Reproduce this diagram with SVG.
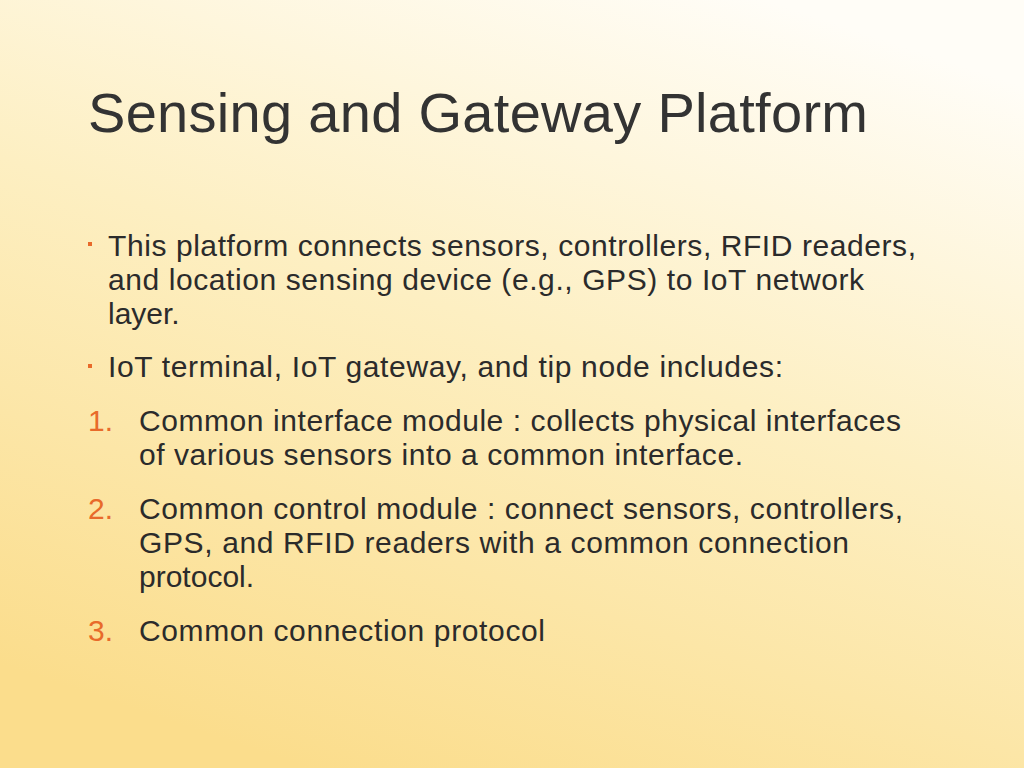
<svg xmlns="http://www.w3.org/2000/svg" width="1024" height="768" viewBox="0 0 1024 768">
<defs>
<linearGradient id="bg" x1="0.75" y1="0" x2="0.3" y2="1">
<stop offset="0" stop-color="#fffdf7"/>
<stop offset="0.45" stop-color="#fdefc2"/>
<stop offset="1" stop-color="#fbdd8c"/>
</linearGradient>
<style>
text{font-family:"Liberation Sans",Arial,sans-serif;fill:#2b2b2b}
.b{font-size:30px}
.n{font-size:30px;fill:#e86a2a}
.t{font-size:56px;fill:#333}
.sq{fill:#e86a2a}
</style>
</defs>
<rect width="1024" height="768" fill="url(#bg)"/>
<text class="t" x="88" y="132" textLength="780">Sensing and Gateway Platform</text>
<rect class="sq" x="88" y="242" width="4" height="4"/>
<text class="b" x="108" y="256" textLength="808">This platform connects sensors, controllers, RFID readers,</text>
<text class="b" x="108" y="290" textLength="756">and location sensing device (e.g., GPS) to IoT network</text>
<text class="b" x="108" y="324">layer.</text>
<rect class="sq" x="88" y="364" width="4" height="4"/>
<text class="b" x="108" y="377" textLength="675">IoT terminal, IoT gateway, and tip node includes:</text>
<text class="n" x="88" y="431">1.</text>
<text class="b" x="139" y="431" textLength="762">Common interface module : collects physical interfaces</text>
<text class="b" x="139" y="465" textLength="604">of various sensors into a common interface.</text>
<text class="n" x="88" y="519">2.</text>
<text class="b" x="139" y="519" textLength="764">Common control module : connect sensors, controllers,</text>
<text class="b" x="139" y="553" textLength="710">GPS, and RFID readers with a common connection</text>
<text class="b" x="139" y="587">protocol.</text>
<text class="n" x="88" y="641">3.</text>
<text class="b" x="139" y="641" textLength="406">Common connection protocol</text>
</svg>
